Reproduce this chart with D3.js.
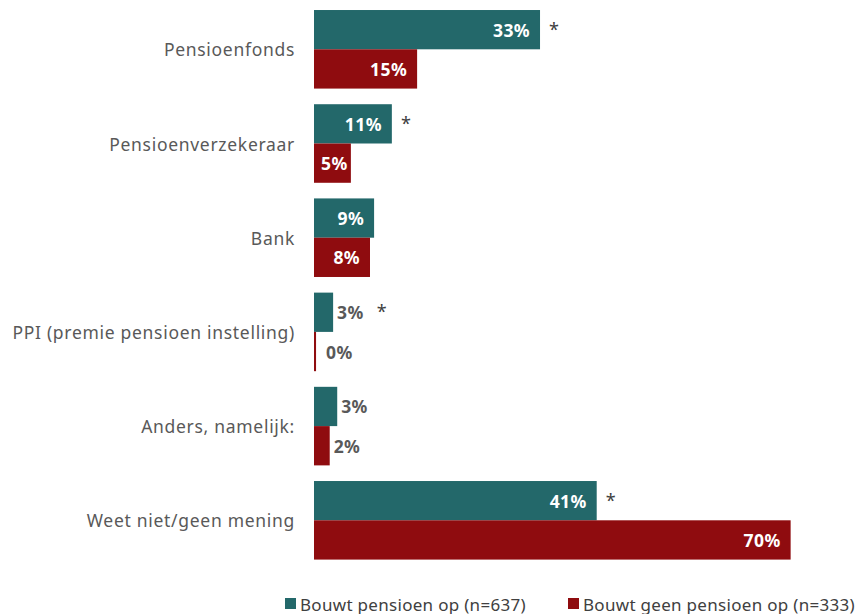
<!DOCTYPE html>
<html>
<head>
<meta charset="utf-8">
<script src="https://cdn.jsdelivr.net/npm/d3@7"></script>
<style>
  body { margin: 0; background: #fff; }
  text { font-family: "Noto Sans", "Open Sans", sans-serif; }
</style>
</head>
<body>
<div id="chart"></div>
<script>
let categories = ["Pensioenfonds", "Pensioenverzekeraar", "Bank", "PPI (premie pensioen instelling)", "Anders, namelijk:", "Weet niet/geen mening"];
let seriesNames = ["Bouwt pensioen op (n=637)", "Bouwt geen pensioen op (n=333)"];
let bouwtOp = [33.1, 11.4, 8.8, 2.8, 3.4, 41.4];
let bouwtGeen = [15.1, 5.4, 8.2, 0.3, 2.3, 69.8];
let significant = [true, true, false, true, false, true];

let colors = ["#23686a", "#8f0c0f"];
let width = 860, height = 614;
let x0 = 314;

let svg = d3.select("#chart").append("svg").attr("width", width).attr("height", height);

let x = d3.scaleLinear().domain([0, 70]).range([x0, x0 + 478]);
let y = d3.scaleBand().domain(categories).range([2.2, 567.4]).paddingInner(0.166).paddingOuter(0.083);
let ySub = d3.scaleBand().domain([0, 1]).range([0, y.bandwidth()]);

// category labels
svg.selectAll(".cat").data(categories).enter().append("text")
    .attr("class", "cat")
    .attr("x", 295)
    .attr("y", d => y(d) + y.bandwidth() / 2)
    .attr("text-anchor", "end")
    .attr("dominant-baseline", "central")
    .attr("fill", "#595959")
    .style("font-size", "17.5px")
    .style("letter-spacing", "0.7px")
    .text(d => d);

let series = [bouwtOp, bouwtGeen];
series.forEach((vals, s) => {
    let g = svg.append("g");
    vals.forEach((v, i) => {
        let top = y(categories[i]) + ySub(s);
        let end = x(v);
        g.append("rect")
            .attr("x", x(0))
            .attr("y", top)
            .attr("width", Math.max(end - x(0), 2))
            .attr("height", ySub.bandwidth())
            .attr("fill", colors[s]);
        let label = Math.round(v) + "%";
        let inside = v >= 5;
        let t = g.append("text")
            .attr("y", top + ySub.bandwidth() / 2)
            .attr("dominant-baseline", "central")
            .style("font-size", "17.5px")
            .style("font-weight", "bold")
            .style("letter-spacing", "0.4px")
            .text(label);
        let tw = t.node().getComputedTextLength();
        let labelEnd;
        if (inside) {
            let lx = Math.max(end - 10, x(0) + 7 + tw);
            t.attr("x", lx).attr("text-anchor", "end").attr("fill", "#fff");
            labelEnd = end;
        } else {
            let lx = Math.max(end + 4, x(0) + 12);
            t.attr("x", lx).attr("text-anchor", "start").attr("fill", "#595959");
            labelEnd = lx + tw + 4;
        }
        if (s === 0 && significant[i]) {
            g.append("text")
                .attr("x", labelEnd + 14)
                .attr("y", top + ySub.bandwidth() / 2 - 1)
                .attr("text-anchor", "middle")
                .attr("dominant-baseline", "central")
                .attr("fill", "#404040")
                .style("font-size", "18px")
                .text("*");
        }
    });
});

// legend
let legendX = [285, 568];
let legend = svg.selectAll(".legend").data(seriesNames).enter().append("g")
    .attr("class", "legend")
    .attr("transform", (d, i) => `translate(${legendX[i]}, 604)`);
legend.append("rect").attr("x", 0).attr("y", -6).attr("width", 11).attr("height", 11).attr("fill", (d, i) => colors[i]);
legend.append("text")
    .attr("x", 15)
    .attr("y", 0)
    .attr("dominant-baseline", "central")
    .attr("fill", "#404040")
    .style("font-size", "17px")
    .style("letter-spacing", "0.3px")
    .text(d => d);
</script>
</body>
</html>
